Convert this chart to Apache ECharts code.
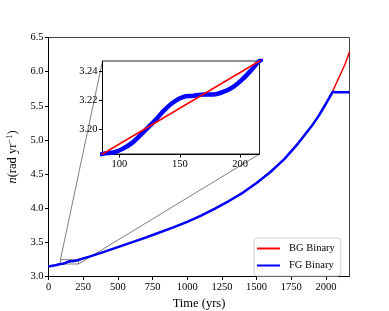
<!DOCTYPE html>
<html>
<head>
<meta charset="utf-8">
<script src="https://cdn.jsdelivr.net/npm/echarts@6/dist/echarts.min.js"></script>
<style>html,body{margin:0;padding:0;background:#fff}#c{width:389px;height:311px}</style>
</head>
<body>
<div id="c"></div>
<script>
// ---- data ----
const bgT = [0, 86, 216, 300, 400, 500, 600, 700, 800, 900, 1000, 1100, 1200, 1300, 1400, 1500, 1600, 1700, 1800, 1900, 1950, 2000, 2050, 2100, 2140, 2170];
const bgN = [3.145, 3.183, 3.247, 3.295, 3.36, 3.43, 3.50, 3.57, 3.645, 3.72, 3.80, 3.89, 3.995, 4.105, 4.225, 4.37, 4.53, 4.72, 4.95, 5.21, 5.36, 5.53, 5.72, 5.94, 6.12, 6.29];

const fgT = [0, 50, 86, 95, 103, 111, 118, 124, 130, 137, 145, 153, 161, 170, 178, 186, 194, 202, 209, 216, 300, 400, 500, 600, 700, 800, 900, 1000, 1100, 1200, 1300, 1400, 1500, 1600, 1700, 1800, 1900, 1950, 2000, 2040, 2048, 2058, 2066, 2170];
const fgN = [3.145, 3.165, 3.1830, 3.1840, 3.1867, 3.1910, 3.1965, 3.2015, 3.2065, 3.2130, 3.2188, 3.2223, 3.2230, 3.2240, 3.2240, 3.2257, 3.2290, 3.2345, 3.2405, 3.2470, 3.295, 3.36, 3.43, 3.50, 3.57, 3.645, 3.72, 3.80, 3.89, 3.995, 4.105, 4.225, 4.37, 4.53, 4.72, 4.95, 5.21, 5.36, 5.53, 5.67, 5.705, 5.715, 5.697, 5.697];

const mainXTicks = [0, 250, 500, 750, 1000, 1250, 1500, 1750, 2000];
const mainYTicks = [3.0, 3.5, 4.0, 4.5, 5.0, 5.5, 6.0, 6.5];
const insetXTicks = [100, 150, 200];
const insetYTicks = [3.20, 3.22, 3.24];
const insetRange = {xMin: 86, xMax: 216, yMin: 3.183, yMax: 3.247};
const mainRange = {xMin: 0, xMax: 2170, yMin: 3.0, yMax: 6.5};
const seriesNames = ['BG Binary', 'FG Binary'];

const zip = (a, b) => a.map((v, i) => [v, b[i]]);
const FONT = 'Liberation Serif';
const lblStyle = {fontFamily: FONT, fontSize: 10.5, color: '#000'};

const chart = echarts.init(document.getElementById('c'), null, {renderer: 'canvas'});
const option = {
  animation: false,
  backgroundColor: '#fff',
  grid: [
    {left: 48.5, top: 37.5, right: 39.5, bottom: 34.5, outerBoundsMode: 'none', containLabel: false,
     show: true, borderColor: '#444', borderWidth: 1, backgroundColor: 'transparent'},
    {left: 102.5, top: 61, width: 157, height: 93, outerBoundsMode: 'none', containLabel: false,
     show: true, borderColor: '#222', borderWidth: 1, backgroundColor: '#fff', z: 5}
  ],
  xAxis: [
    {type: 'value', gridIndex: 0, min: mainRange.xMin, max: mainRange.xMax,
     name: 'Time (yrs)', nameLocation: 'middle', nameGap: 17,
     nameTextStyle: {fontFamily: FONT, fontSize: 12.5, color: '#000'},
     axisLine: {lineStyle: {color: '#000', width: 1}},
     axisTick: {length: 3.5, lineStyle: {color: '#000'}, customValues: mainXTicks},
     axisLabel: Object.assign({margin: 5, customValues: mainXTicks, formatter: v => String(v)}, lblStyle),
     splitLine: {show: false}},
    {type: 'value', gridIndex: 1, min: insetRange.xMin, max: insetRange.xMax,
     axisLine: {lineStyle: {color: '#000', width: 1}},
     axisTick: {length: 3.5, lineStyle: {color: '#000'}, customValues: insetXTicks},
     axisLabel: Object.assign({margin: 5, customValues: insetXTicks, formatter: v => String(v)}, lblStyle),
     splitLine: {show: false}, z: 6}
  ],
  yAxis: [
    {type: 'value', gridIndex: 0, min: mainRange.yMin, max: mainRange.yMax,
     name: '{it|n}(rad yr{sup|−1})', nameLocation: 'middle', nameGap: 28,
     nameTextStyle: {fontFamily: FONT, fontSize: 12.5, color: '#000',
       rich: {it: {fontFamily: FONT, fontStyle: 'italic', fontSize: 12.5, color: '#000'},
              sup: {fontFamily: FONT, fontSize: 8.5, color: '#000', verticalAlign: 'top', padding: [0, 0, 6, 0]}}},
     axisLine: {lineStyle: {color: '#000', width: 1}},
     axisTick: {length: 3.5, lineStyle: {color: '#000'}, customValues: mainYTicks},
     axisLabel: Object.assign({margin: 5, customValues: mainYTicks, formatter: v => v.toFixed(1)}, lblStyle),
     splitLine: {show: false}},
    {type: 'value', gridIndex: 1, min: insetRange.yMin, max: insetRange.yMax,
     axisLine: {lineStyle: {color: '#000', width: 1}},
     axisTick: {length: 3.5, lineStyle: {color: '#000'}, customValues: insetYTicks},
     axisLabel: Object.assign({margin: 5, customValues: insetYTicks, formatter: v => v.toFixed(2)}, lblStyle),
     splitLine: {show: false}, z: 6}
  ],
  legend: {
    data: seriesNames, orient: 'vertical', left: 254, top: 238,
    icon: 'rect', itemWidth: 23, itemHeight: 2, itemGap: 6,
    padding: [5, 6, 5, 3],
    backgroundColor: 'rgba(255,255,255,0.8)', borderColor: '#d0d0d0', borderWidth: 1, borderRadius: 3,
    textStyle: {fontFamily: FONT, fontSize: 10.5, color: '#000', padding: [0, 0, 0, 4]}
  },
  series: [
    {name: seriesNames[0], type: 'line', xAxisIndex: 0, yAxisIndex: 0, data: zip(bgT, bgN),
     symbol: 'none', lineStyle: {color: '#ff0000', width: 1.5}, itemStyle: {color: '#ff0000'}, z: 2},
    {name: seriesNames[1], type: 'line', xAxisIndex: 0, yAxisIndex: 0, data: zip(fgT, fgN),
     symbol: 'none', lineStyle: {color: '#0000ff', width: 2.5}, itemStyle: {color: '#0000ff'}, z: 3},
    {name: 'zoomBox', type: 'line', xAxisIndex: 0, yAxisIndex: 0, silent: true, symbol: 'none',
     data: [[insetRange.xMin, insetRange.yMin], [insetRange.xMax, insetRange.yMin], [insetRange.xMax, insetRange.yMax], [insetRange.xMin, insetRange.yMax], [insetRange.xMin, insetRange.yMin]],
     lineStyle: {color: '#808080', width: 1}, z: 1},
    {name: seriesNames[1], type: 'line', xAxisIndex: 1, yAxisIndex: 1, data: zip(fgT, fgN), smooth: 0.3,
     symbol: 'none', lineStyle: {color: '#0000ff', width: 4.5}, itemStyle: {color: '#0000ff'}, z: 6},
    {name: seriesNames[0], type: 'line', xAxisIndex: 1, yAxisIndex: 1, data: zip(bgT, bgN),
     symbol: 'none', lineStyle: {color: '#ff0000', width: 1.5}, itemStyle: {color: '#ff0000'}, z: 7}
  ]
};
chart.setOption(option);

// connector lines between zoom box corners and inset corners
const a1 = chart.convertToPixel({gridIndex: 0}, [insetRange.xMin, insetRange.yMax]);
const b1 = chart.convertToPixel({gridIndex: 1}, [insetRange.xMin, insetRange.yMax]);
const a2 = chart.convertToPixel({gridIndex: 0}, [insetRange.xMax, insetRange.yMin]);
const b2 = chart.convertToPixel({gridIndex: 1}, [insetRange.xMax, insetRange.yMin]);
chart.setOption({
  graphic: [
    {type: 'line', shape: {x1: a1[0], y1: a1[1], x2: b1[0], y2: b1[1]}, style: {stroke: '#808080', lineWidth: 1}, z: 1, silent: true},
    {type: 'line', shape: {x1: a2[0], y1: a2[1], x2: b2[0], y2: b2[1]}, style: {stroke: '#808080', lineWidth: 1}, z: 1, silent: true}
  ]
});
</script>
</body>
</html>
